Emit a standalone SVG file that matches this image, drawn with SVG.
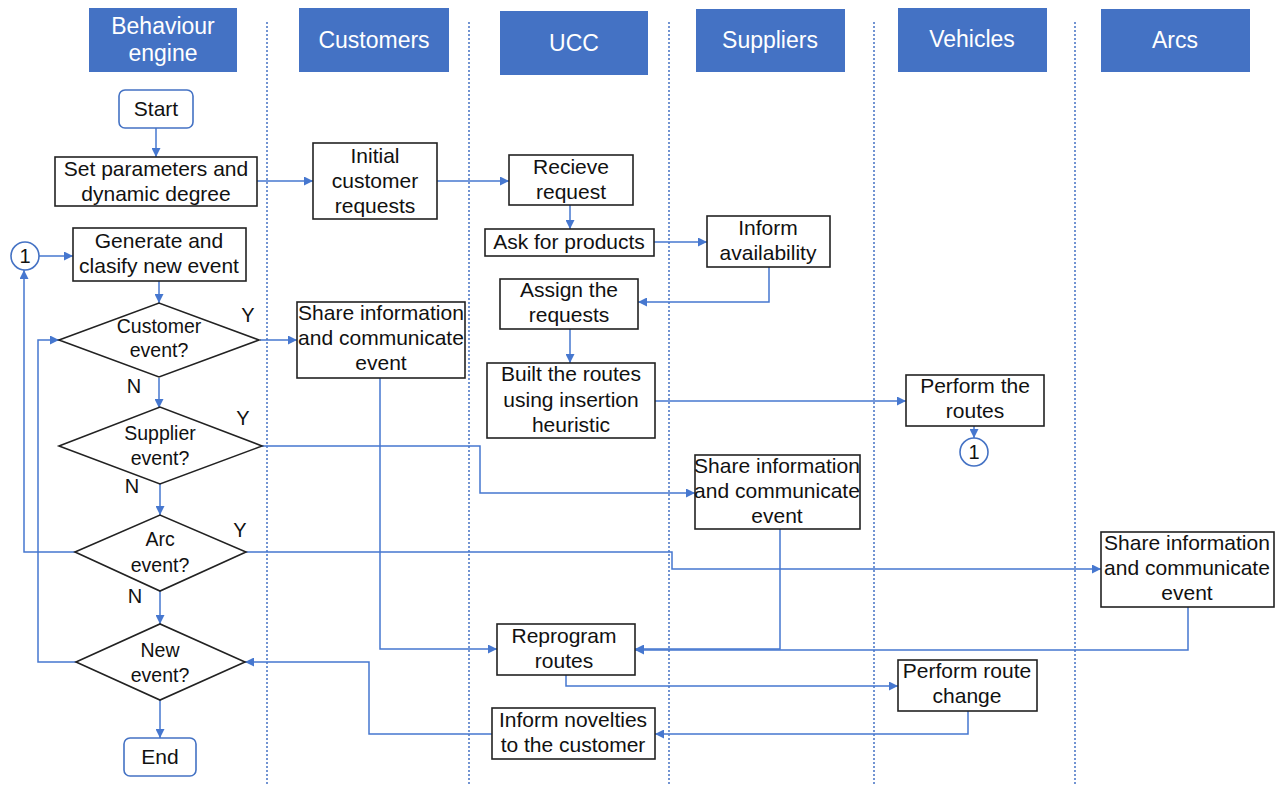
<svg xmlns="http://www.w3.org/2000/svg" width="1281" height="787" viewBox="0 0 1281 787">
<style>
.hdr{fill:#4472C4}
.ht{font-family:"Liberation Sans",Arial,sans-serif;font-size:23px;fill:#fff;text-anchor:middle}
.box{fill:#fff;stroke:#222;stroke-width:1.6}
.term{fill:#fff;stroke:#4472C4;stroke-width:1.6}
.t{font-family:"Liberation Sans",Arial,sans-serif;font-size:21px;fill:#111;text-anchor:middle}
.lbl{font-family:"Liberation Sans",Arial,sans-serif;font-size:19.5px;fill:#111;text-anchor:middle}
.yn{font-family:"Liberation Sans",Arial,sans-serif;font-size:20px;fill:#111;text-anchor:middle}
.sep{stroke:#4472C4;stroke-width:1.5;stroke-dasharray:2 2;fill:none}
.ca{fill:none;stroke:#4677CF;stroke-width:1.5;marker-end:url(#ah)}
</style>
<defs>
<marker id="ah" markerUnits="userSpaceOnUse" markerWidth="9" markerHeight="9" refX="9" refY="4.5" orient="auto">
<path d="M0,0 L9,4.5 L0,9 z" fill="#4677CF"/>
</marker>
</defs>
<rect width="1281" height="787" fill="#fff"/>
<g id="separators">
<line class="sep" x1="267" y1="22" x2="267" y2="785"/>
<line class="sep" x1="469" y1="22" x2="469" y2="785"/>
<line class="sep" x1="669" y1="22" x2="669" y2="785"/>
<line class="sep" x1="874" y1="22" x2="874" y2="785"/>
<line class="sep" x1="1075" y1="22" x2="1075" y2="785"/>
</g>
<g id="headers">
<g id="h-behaviour"><rect class="hdr" x="89" y="8" width="148" height="64"/><text class="ht" x="163" y="34">Behaviour</text><text class="ht" x="163" y="61">engine</text></g>
<g id="h-customers"><rect class="hdr" x="299" y="8" width="150" height="64"/><text class="ht" x="374" y="48">Customers</text></g>
<g id="h-ucc"><rect class="hdr" x="500" y="11" width="148" height="64"/><text class="ht" x="574" y="51">UCC</text></g>
<g id="h-suppliers"><rect class="hdr" x="696" y="9" width="149" height="63"/><text class="ht" x="770" y="48">Suppliers</text></g>
<g id="h-vehicles"><rect class="hdr" x="898" y="8" width="149" height="64"/><text class="ht" x="972" y="47">Vehicles</text></g>
<g id="h-arcs"><rect class="hdr" x="1101" y="9" width="149" height="63"/><text class="ht" x="1175" y="48">Arcs</text></g>
</g>
<g id="connectors">
<path class="ca" d="M156,128 V157"/>
<path class="ca" d="M257,181 H313"/>
<path class="ca" d="M437,181 H509"/>
<path class="ca" d="M570,205 V229"/>
<path class="ca" d="M654,242 H707"/>
<path class="ca" d="M769,267 V302 H638"/>
<path class="ca" d="M570,329 V363"/>
<path class="ca" d="M655,401 H906"/>
<path class="ca" d="M974,426 V438"/>
<path class="ca" d="M39,256 H73"/>
<path class="ca" d="M159,281 V303"/>
<path class="ca" d="M260,340 H297"/>
<path class="ca" d="M159,378 V408"/>
<path class="ca" d="M262,446 H480 V493 H695"/>
<path class="ca" d="M160,484 V515"/>
<path class="ca" d="M246,552 H672 V569 H1101"/>
<path class="ca" d="M75,552 H24 V270"/>
<path class="ca" d="M160,591 V624"/>
<path class="ca" d="M76,662 H38 V340 H59"/>
<path class="ca" d="M160,700 V738"/>
<path class="ca" d="M380,378 V649 H497"/>
<path class="ca" d="M780,529 V649 H635"/>
<path class="ca" d="M1188,607 V650 H635"/>
<path class="ca" d="M566,675 V686 H898"/>
<path class="ca" d="M968,711 V734 H655"/>
<path class="ca" d="M492,734 H369 V662 H245"/>
</g>
<g id="start"><rect class="term" x="119" y="90" width="74" height="38" rx="6"/><text class="t" x="156" y="116">Start</text></g>
<g id="set-params"><rect class="box" x="55" y="157" width="202" height="49"/><text class="t" x="156" y="176">Set parameters and</text><text class="t" x="156" y="201">dynamic degree</text></g>
<g id="initial-requests"><rect class="box" x="313" y="143" width="124" height="76"/><text class="t" x="375" y="163">Initial</text><text class="t" x="375" y="188">customer</text><text class="t" x="375" y="213">requests</text></g>
<g id="receive-request"><rect class="box" x="509" y="155" width="124" height="50"/><text class="t" x="571" y="174">Recieve</text><text class="t" x="571" y="199">request</text></g>
<g id="ask-products"><rect class="box" x="485" y="229" width="169" height="27"/><text class="t" x="569" y="249">Ask for products</text></g>
<g id="inform-availability"><rect class="box" x="707" y="216" width="123" height="51"/><text class="t" x="768" y="235">Inform</text><text class="t" x="768" y="260">availability</text></g>
<g id="assign-requests"><rect class="box" x="500" y="279" width="138" height="50"/><text class="t" x="569" y="297">Assign the</text><text class="t" x="569" y="322">requests</text></g>
<g id="built-routes"><rect class="box" x="487" y="363" width="168" height="75"/><text class="t" x="571" y="381">Built the routes</text><text class="t" x="571" y="407">using insertion</text><text class="t" x="571" y="432">heuristic</text></g>
<g id="perform-routes"><rect class="box" x="906" y="375" width="138" height="51"/><text class="t" x="975" y="393">Perform the</text><text class="t" x="975" y="418">routes</text></g>
<g id="conn-1-right"><circle cx="974" cy="452" r="14" fill="#fff" stroke="#4472C4" stroke-width="1.6"/><text class="yn" x="974" y="459">1</text></g>
<g id="conn-1-left"><circle cx="25" cy="256" r="14" fill="#fff" stroke="#4472C4" stroke-width="1.6"/><text class="yn" x="25" y="263">1</text></g>
<g id="generate-event"><rect class="box" x="73" y="228" width="173" height="53"/><text class="t" x="159" y="248">Generate and</text><text class="t" x="159" y="273">clasify new event</text></g>
<g id="customer-event"><polygon class="box" points="59,340 159,303 259,340 159,377"/><text class="lbl" x="159" y="333">Customer</text><text class="lbl" x="159" y="357">event?</text><text class="yn" x="248" y="322">Y</text><text class="yn" x="134" y="393">N</text></g>
<g id="supplier-event"><polygon class="box" points="59,446 160,407 262,446 160,484"/><text class="lbl" x="160" y="440">Supplier</text><text class="lbl" x="160" y="465">event?</text><text class="yn" x="243" y="425">Y</text><text class="yn" x="132" y="493">N</text></g>
<g id="arc-event"><polygon class="box" points="75,552 160,515 246,552 160,591"/><text class="lbl" x="160" y="546">Arc</text><text class="lbl" x="160" y="572">event?</text><text class="yn" x="240" y="537">Y</text><text class="yn" x="135" y="603">N</text></g>
<g id="new-event"><polygon class="box" points="76,662 160,624 245,662 160,700"/><text class="lbl" x="160" y="657">New</text><text class="lbl" x="160" y="682">event?</text></g>
<g id="end"><rect class="term" x="124" y="738" width="72" height="38" rx="6"/><text class="t" x="160" y="764">End</text></g>
<g id="share-customers"><rect class="box" x="297" y="302" width="168" height="76"/><text class="t" x="381" y="320">Share information</text><text class="t" x="381" y="345">and communicate</text><text class="t" x="381" y="370">event</text></g>
<g id="share-suppliers"><rect class="box" x="695" y="455" width="165" height="74"/><text class="t" x="777" y="473">Share information</text><text class="t" x="777" y="498">and communicate</text><text class="t" x="777" y="523">event</text></g>
<g id="share-arcs"><rect class="box" x="1101" y="532" width="173" height="75"/><text class="t" x="1187" y="550">Share information</text><text class="t" x="1187" y="575">and communicate</text><text class="t" x="1187" y="600">event</text></g>
<g id="reprogram-routes"><rect class="box" x="497" y="624" width="138" height="51"/><text class="t" x="564" y="643">Reprogram</text><text class="t" x="564" y="668">routes</text></g>
<g id="perform-route-change"><rect class="box" x="898" y="660" width="139" height="51"/><text class="t" x="967" y="678">Perform route</text><text class="t" x="967" y="703">change</text></g>
<g id="inform-novelties"><rect class="box" x="492" y="708" width="163" height="51"/><text class="t" x="573" y="727">Inform novelties</text><text class="t" x="573" y="752">to the customer</text></g>
</svg>
